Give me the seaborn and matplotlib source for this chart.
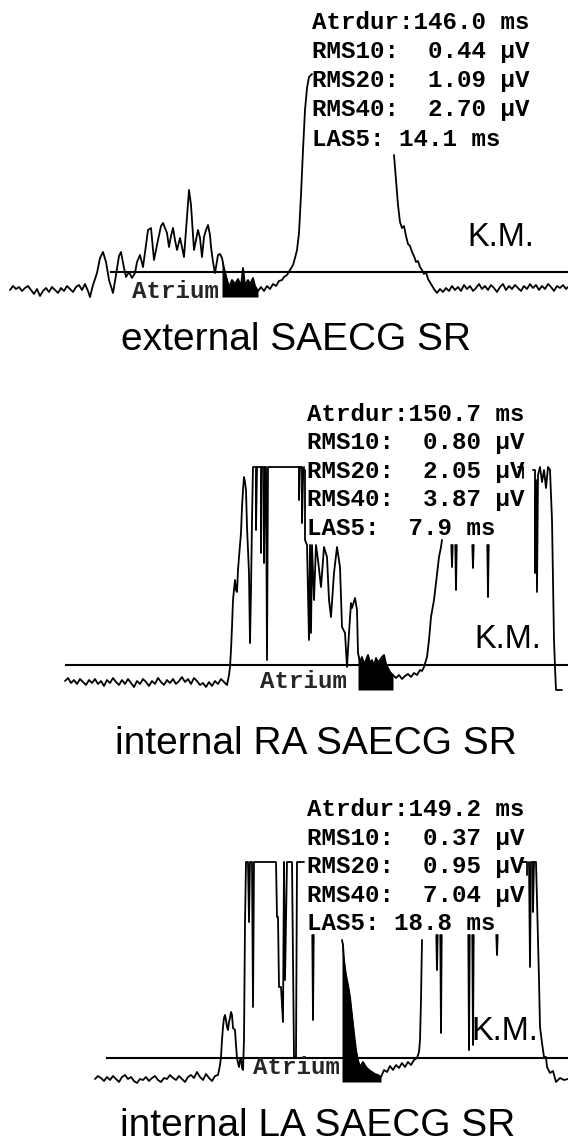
import pandas as pd
import seaborn as sns
import matplotlib.pyplot as plt

W, H = 568, 1146

# ---- external SAECG (t in samples, amp relative to the noise threshold line) ----
ext_pre = [(10, -18), (13, -14), (16, -17), (19, -15), (22, -19), (25, -16), (28, -14), (31, -18),
           (34, -22), (37, -17), (40, -24), (43, -19), (46, -16), (49, -20), (52, -15), (55, -18),
           (58, -21), (61, -16), (64, -19), (67, -14), (70, -17), (73, -20), (76, -15), (79, -13),
           (82, -18), (85, -12), (88, -19)]
ext_pwave = [(90, -25), (93, -13), (97, -1), (100, 14), (103, 20), (106, 10), (109, -8), (113, -21),
             (116, -3), (119, 16), (121, 20), (124, 4), (126, -5), (129, 0), (132, -6), (135, -1),
             (137, 10), (140, 17), (143, 5), (146, 27), (148, 42), (151, 44), (154, 12), (158, 32),
             (161, 46), (163, 49), (167, 39), (169, 25), (171, 36), (173, 44), (175, 32), (177, 22),
             (180, 34), (182, 25), (184, 15), (187, 55), (189, 82), (191, 67), (192, 52), (194, 22),
             (196, 32), (198, 42), (200, 34), (202, 15), (204, 35), (206, 42), (208, 47), (210, 37),
             (211, 25), (213, 10), (215, -1), (218, 17), (220, 18), (222, 14), (224, 4), (226, -4),
             (229, -15), (232, -8), (235, -12), (238, -7), (241, -14), (243, 4), (245, -13), (248, -8),
             (250, -12), (253, -6), (255, -14), (258, -19), (261, -15), (264, -19), (267, -14),
             (270, -17), (273, -12), (276, -14), (279, -9), (282, -8), (284, -5), (287, -3), (290, 2),
             (293, 7), (295, 14), (297, 22), (299, 39), (301, 77), (303, 122), (305, 162), (307, 184),
             (309, 195), (312, 198)]
ext_post = [(394, 117), (396, 92), (398, 67), (400, 50), (402, 44), (404, 46), (406, 36), (408, 28),
            (410, 26), (412, 20), (414, 16), (416, 10), (418, 11), (420, 5), (422, 2), (424, -2),
            (426, 0), (428, -7), (431, -12), (434, -17), (437, -21), (440, -17), (443, -20), (446, -16),
            (449, -19), (452, -14), (455, -18), (458, -15), (461, -19), (464, -13), (467, -17),
            (470, -14), (473, -19), (476, -16), (479, -12), (482, -17), (485, -14), (488, -18),
            (491, -13), (494, -16), (497, -20), (500, -15), (503, -12), (506, -18), (509, -14),
            (512, -17), (515, -13), (518, -16), (521, -19), (524, -14), (527, -17), (530, -12),
            (533, -16), (536, -13), (539, -18), (542, -14), (545, -17), (548, -12), (551, -15),
            (554, -19), (557, -14), (560, -16), (563, -13), (566, -17), (568, -15)]
ext_fill = (222, 258, -25)
ext_thr_start = 110
ext_stats = ["Atrdur:146.0 ms", "RMS10:  0.44 µV", "RMS20:  1.09 µV", "RMS40:  2.70 µV", "LAS5: 14.1 ms"]

# ---- internal RA SAECG ----
ra_pre = [(65, -16), (68, -13), (71, -18), (74, -15), (77, -19), (80, -14), (83, -17), (86, -20),
          (89, -15), (92, -18), (95, -14), (98, -19), (101, -16), (104, -21), (107, -15), (110, -18),
          (113, -13), (116, -17), (119, -20), (122, -15), (125, -19), (128, -14), (131, -18), (134, -22),
          (137, -16), (140, -19), (143, -14), (146, -17), (149, -21), (152, -16), (155, -19), (158, -13),
          (161, -17), (164, -20), (167, -15), (170, -18), (173, -14), (176, -19), (179, -16), (182, -12),
          (185, -17), (188, -14), (191, -19), (194, -13), (197, -16), (200, -20), (203, -18), (206, -22),
          (209, -17), (212, -21), (215, -16), (218, -19), (221, -14), (224, -17)]
ra_qrs = [(227, -20), (229, -10), (230, -2), (231, 15), (232, 38), (233, 65), (234, 75), (235, 85),
          (236, 75), (237, 73), (238, 95), (239, 108), (240, 120), (241, 132), (242, 158), (243, 175),
          (244, 188), (245, 183), (246, 175), (247, 138), (248, 115), (249, 92), (250, 22), (251, 75),
          (252, 145), (253, 198), (256, 198), (256, 135), (257, 198), (261, 198), (261, 112), (262, 198),
          (264, 198), (264, 102), (265, 198), (266, 198), (267, 5), (268, 198), (299, 198), (299, 165),
          (300, 198), (302, 198), (302, 142), (303, 185), (304, 198)]
ra_mid = [(305, 195), (305, 125), (307, 120), (309, 25), (310, 120), (311, 32), (312, 120), (314, 65),
          (316, 120), (318, 105), (321, 78), (324, 118), (327, 108), (329, 65), (331, 48), (334, 92),
          (337, 118), (340, 98), (342, 38), (345, 32), (347, -2), (349, 32), (351, 62), (352, 57),
          (355, 67), (357, 55), (358, 12), (360, 3), (362, 8), (364, 1), (366, 5), (368, 10), (370, 2),
          (372, 5), (374, -1), (376, 7), (378, 3), (380, 5), (382, 8), (384, 10), (386, 1), (388, -3),
          (390, -7), (393, -10), (396, -13), (399, -10), (402, -14), (405, -11), (408, -9), (411, -12),
          (414, -8), (417, -10), (420, -5), (422, -6), (424, -2), (427, 8), (429, 25), (431, 48),
          (434, 65), (436, 82), (439, 108), (441, 118), (442, 125)]
ra_right1 = [(518, 198), (523, 198), (523, 187)]
ra_right2 = [(533, 195), (535, 195), (535, 92), (536, 185), (537, 73), (538, 190), (540, 198),
             (542, 183), (544, 195), (546, 177), (548, 198), (550, 195), (552, 145), (553, 85),
             (554, 25), (555, -2), (556, -25), (562, -25)]
ra_spike_t = [452, 456, 473, 488]
ra_spike_low = [98, 75, 97, 68]
ra_fill = (358, 393, -25)
ra_thr_start = 65
ra_stats = ["Atrdur:150.7 ms", "RMS10:  0.80 µV", "RMS20:  2.05 µV", "RMS40:  3.87 µV", "LAS5:  7.9 ms"]

# ---- internal LA SAECG ----
la_pre = [(95, -21), (98, -18), (101, -20), (104, -23), (107, -19), (110, -22), (113, -18), (116, -21),
          (119, -24), (122, -19), (125, -17), (128, -21), (131, -19), (134, -23), (137, -25), (140, -21),
          (143, -22), (146, -19), (149, -23), (152, -20), (155, -18), (158, -22), (161, -24), (164, -20),
          (167, -21), (170, -17), (173, -20), (176, -22), (179, -18), (182, -21), (185, -24), (188, -19),
          (191, -17), (194, -20), (197, -14), (200, -19), (203, -22), (206, -16), (209, -20), (212, -23),
          (215, -18)]
la_qrs = [(218, -17), (220, -7), (221, 1), (222, 18), (223, 31), (224, 40), (225, 43), (226, 38),
          (227, 31), (228, 28), (229, 36), (230, 40), (231, 46), (232, 43), (233, 30), (235, 28),
          (236, 13), (237, 0), (238, -5), (239, -9), (240, -2), (241, 0), (242, -10), (243, -12),
          (244, 18), (245, 135), (246, 196), (248, 196), (249, 136), (250, 196), (252, 196), (253, 51),
          (254, 196), (276, 196), (277, 141), (278, 141), (279, 71), (281, 71), (283, 36), (284, 196),
          (285, 78), (287, 196), (292, 196), (294, 1), (296, 1), (297, 196), (304, 196)]
la_mid = [(342, 118), (343, 113), (344, 98), (346, 83), (348, 73), (350, 61), (352, 43), (354, 25),
          (356, 8), (358, -2), (360, -9), (363, -4), (366, -9), (369, -12), (372, -14), (375, -16),
          (378, -17), (381, -19), (384, -12), (387, -14), (390, -8), (393, -12), (396, -7), (399, -10),
          (402, -5), (405, -9), (408, -4), (411, -7), (414, -2), (417, 0), (419, 6), (420, 18),
          (421, 58), (422, 118)]
la_right1 = [(522, 196), (527, 196), (527, 183)]
la_right2 = [(529, 196), (530, 91), (531, 196), (533, 196), (533, 146), (534, 196), (536, 196),
             (537, 158), (538, 118), (539, 78), (540, 31), (542, 15), (544, 1), (546, 1), (547, -9),
             (550, -15), (553, -13), (556, -24), (560, -20), (564, -22), (568, -21)]
la_spike_t = [313, 437, 441, 469, 473, 497]
la_spike_low = [38, 88, 25, 8, 13, 103]
la_fill = (342, 381, -24)
la_thr_start = 106
la_stats = ["Atrdur:149.2 ms", "RMS10:  0.37 µV", "RMS20:  0.95 µV", "RMS40:  7.04 µV", "LAS5: 18.8 ms"]

titles = ["external SAECG SR", "internal RA SAECG SR", "internal LA SAECG SR"]

# ---- layout (pixel positions) ----
panels = [
    dict(top=0, bottom=310, zero=272,
         segs=[ext_pre + ext_pwave, ext_post], fill=ext_fill, fill_seg=0,
         spikes=None, thr=ext_thr_start, stats=ext_stats, stats_x=312,
         stats_y=[29, 58, 87, 116, 146], atrium=(132, 298), km=(467, 246), title=(121, 350)),
    dict(top=390, bottom=700, zero=665,
         segs=[ra_pre + ra_qrs, ra_mid, ra_right1, ra_right2], fill=ra_fill, fill_seg=1,
         spikes=(ra_spike_t, ra_spike_low, 665 - 545), thr=ra_thr_start, stats=ra_stats, stats_x=307,
         stats_y=[421, 449, 478, 506, 535], atrium=(260, 688), km=(474, 648), title=(115, 754)),
    dict(top=780, bottom=1095, zero=1058,
         segs=[la_pre + la_qrs, la_mid, la_right1, la_right2], fill=la_fill, fill_seg=1,
         spikes=(la_spike_t, la_spike_low, 1058 - 935), thr=la_thr_start, stats=la_stats, stats_x=307,
         stats_y=[816, 845, 873, 902, 930], atrium=(253, 1074), km=(471, 1040), title=(120, 1136)),
]

sns.set_theme(style="white")
plt.rcParams['font.family'] = ['Liberation Sans', 'DejaVu Sans']

fig = plt.figure(figsize=(W / 100, H / 100), dpi=100)
mono = dict(family=['Liberation Mono', 'DejaVu Sans Mono'], fontweight='bold', fontsize=17.4)

for p, title in zip(panels, titles):
    ax = fig.add_axes([0, 1 - p['bottom'] / H, 1, (p['bottom'] - p['top']) / H])
    ax.set_xlim(0, W)
    ax.set_ylim(p['zero'] - p['bottom'], p['zero'] - p['top'])
    ax.axis('off')

    rows = []
    for i, seg in enumerate(p['segs']):
        rows += [dict(seg=i, t=t, amp=a) for t, a in seg]
    if p['spikes']:
        st, low, top = p['spikes']
        for j, (t, a) in enumerate(zip(st, low)):
            for tt, aa in [(t - 0.7, top), (t, a), (t + 0.7, top)]:
                rows.append(dict(seg=100 + j, t=tt, amp=aa))
    df = pd.DataFrame(rows)

    sns.lineplot(data=df, x='t', y='amp', units='seg', estimator=None, sort=False,
                 color='black', linewidth=1.3, ax=ax, legend=False)

    # threshold line
    ax.hlines(0, p['thr'], W, color='black', linewidth=1.5)

    # filled terminal portion
    lo, hi, floor = p['fill']
    seg = pd.DataFrame(p['segs'][p['fill_seg']], columns=['t', 'amp'])
    part = seg[(seg.t >= lo) & (seg.t <= hi)]
    ax.fill_between(part.t, part.amp, floor, color='black', linewidth=0)

    z = p['zero']
    for txt, yb in zip(p['stats'], p['stats_y']):
        ax.text(p['stats_x'], z - yb, txt, va='baseline', ha='left', color='black', **mono)
    ax.text(p['atrium'][0], z - p['atrium'][1], "Atrium", va='baseline', ha='left', **mono)
    ax.text(p['km'][0], z - p['km'][1], "K.M.", va='baseline', ha='left', fontsize=23.5,
            family=['Liberation Sans', 'DejaVu Sans'], color='black')

    fig.text(p['title'][0] / W, 1 - p['title'][1] / H, title, va='baseline', ha='left',
             fontsize=28, family=['Liberation Sans', 'DejaVu Sans'], color='black')

fig.savefig('out.png', dpi=100, facecolor='white')
